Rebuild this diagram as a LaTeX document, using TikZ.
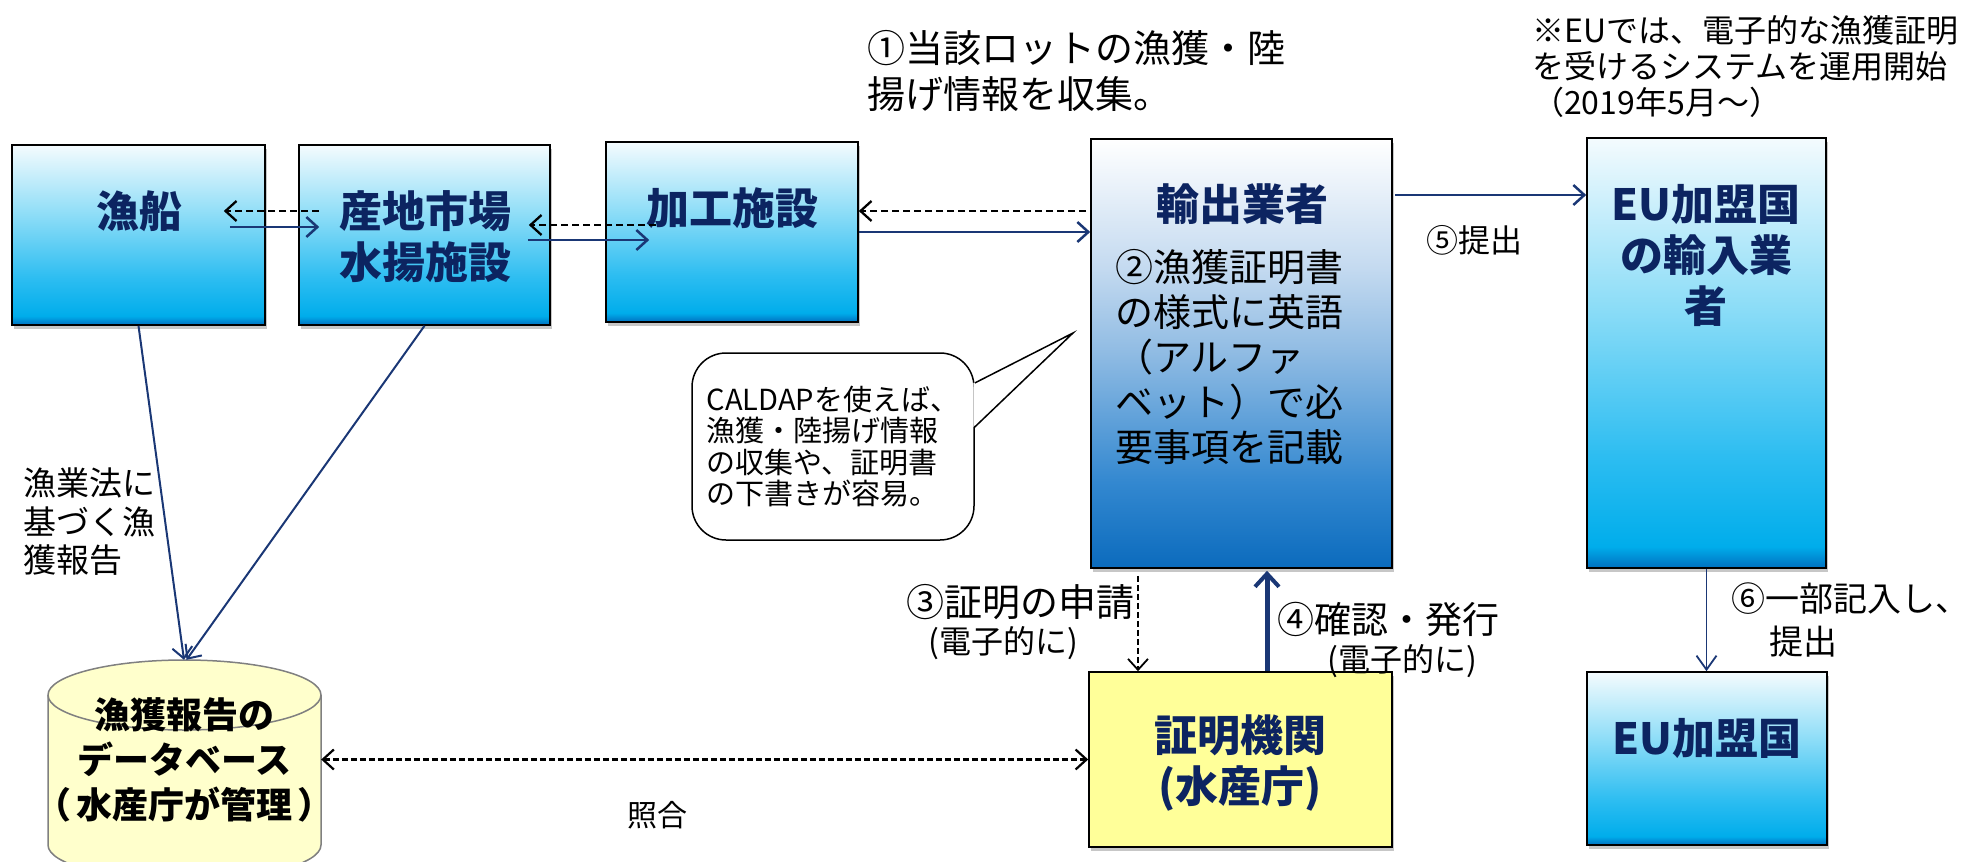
\documentclass[tikz,border=0pt]{standalone}
\usepackage{fontspec}
\setmainfont{Noto Sans CJK JP}
\usetikzlibrary{arrows.meta,shadows,calc}
\definecolor{navy}{HTML}{0C2461}
\definecolor{arrowblue}{HTML}{1A3775}
\definecolor{cb0}{HTML}{F4FBFE}
\definecolor{cb1}{HTML}{8ADCF7}
\definecolor{cb2}{HTML}{2DBDF1}
\definecolor{cb3}{HTML}{00ADEB}
\definecolor{cb4}{HTML}{0070C0}
\definecolor{db0}{HTML}{FFFFFF}
\definecolor{db1}{HTML}{C4DAF0}
\definecolor{db2}{HTML}{8FBBE3}
\definecolor{db3}{HTML}{3388D0}
\definecolor{db4}{HTML}{0B6BBD}
\definecolor{certfill}{HTML}{FFFF99}
\definecolor{dbfill}{HTML}{FFFFCC}
\definecolor{dbline}{HTML}{808080}
\pgfdeclareverticalshading{cyanbox}{100bp}{color(0bp)=(cb4); color(25bp)=(cb4); color(27.5bp)=(cb3); color(38bp)=(cb2); color(55bp)=(cb1); color(75bp)=(cb0); color(100bp)=(cb0)}
\pgfdeclareverticalshading{bluebox}{100bp}{color(0bp)=(db4); color(25bp)=(db4); color(35bp)=(db3); color(50bp)=(db2); color(60bp)=(db1); color(75bp)=(db0); color(100bp)=(db0)}
\newcommand\fsz[2]{\fontsize{#1pt}{#2pt}\selectfont}
\begin{document}
\begin{tikzpicture}[x=1pt,y=-1pt,
  shadowed/.style={drop shadow={shadow xshift=2pt,shadow yshift=-4pt,fill=black,opacity=0.22}},
  cbox/.style={draw=black,line width=1.6pt,shade,shading=cyanbox,shadowed,inner sep=0pt},
  bbox/.style={draw=black,line width=1.6pt,shade,shading=bluebox,shadowed,inner sep=0pt},
  ybox/.style={draw=black,line width=1.6pt,fill=certfill,shadowed,inner sep=0pt},
  title/.style={font=\fsz{43}{51}\bfseries,text=navy,align=center,inner sep=0pt},
  body/.style={font=\fsz{38}{45},text=black,align=left,inner sep=0pt},
  lbl/.style={text=black,align=left,inner sep=0pt},
  solidarrow/.style={draw=arrowblue,line width=2.5pt,-{Straight Barb[length=11pt,width=20pt]}},
  dasharrow/.style={draw=black,line width=2.3pt,dash pattern=on 7pt off 4pt,-{Straight Barb[length=11pt,width=20pt]}},
]
\useasboundingbox (0,0) rectangle (1971,862);
\clip (0,0) rectangle (1971,862);

% boxes
\node[cbox,minimum width=253pt,minimum height=180pt] (A) at (138.5,235) {};
\node[cbox,minimum width=251pt,minimum height=180pt] (B) at (424.5,235) {};
\node[cbox,minimum width=252pt,minimum height=180pt] (C) at (732,232) {};
\node[bbox,minimum width=301pt,minimum height=429pt] (D) at (1241.5,353.5) {};
\node[cbox,minimum width=239pt,minimum height=430pt] (E) at (1706.5,353) {};
\node[ybox,minimum width=303pt,minimum height=175pt] (F) at (1240.5,759.5) {};
\node[cbox,minimum width=240pt,minimum height=173pt] (G) at (1707,758.5) {};

% database cylinder
\fill[dbfill] (48,695) -- (48,845) arc[start angle=180,end angle=360,x radius=136.5pt,y radius=35pt] -- (321,695) arc[start angle=0,end angle=180,x radius=136.5pt,y radius=35pt] -- cycle;
\draw[dbline,line width=1.5pt] (48,695) -- (48,845) arc[start angle=180,end angle=360,x radius=136.5pt,y radius=35pt] -- (321,695) arc[start angle=0,end angle=180,x radius=136.5pt,y radius=35pt];
\draw[dbline,line width=1.5pt] (48,695) arc[start angle=180,end angle=360,x radius=136.5pt,y radius=35pt];
\node[minimum width=273pt,minimum height=200pt,inner sep=0pt] (H) at (184.5,760) {};

% box texts
\node[title] (tA) at (139,211) {漁船};
\node[title] (tB) at (425,237) {産地市場\\水揚施設};
\node[title] (tC) at (732,208) {加工施設};
\node[title] (tD) at (1242,204) {輸出業者};
\node[body] (tD2) at (1229,357) {②漁獲証明書\\の様式に英語\\（アルファ\\ベット）で必\\要事項を記載};
\node[title] (tE) at (1706,256) {EU加盟国\\の輸入業\\者};
\node[title] (tF) at (1240,763) {証明機関\\(水産庁)};
\node[title] (tG) at (1707,738) {EU加盟国};
\node[font=\fsz{36}{45}\bfseries,text=black,align=center,inner sep=0pt] (tH) at (184.5,760) {漁獲報告の\\データベース\\（\hspace{5pt}水産庁が管理\hspace{5pt}）};

% callout
\node[draw=black,line width=1.5pt,fill=white,rounded corners=34pt,minimum width=282pt,minimum height=187pt,font=\fsz{29}{31.5},align=left] (K) at (833,446.5) {CALDAPを使えば、\\漁獲・陸揚げ情報\\の収集や、証明書\\の下書きが容易。};
\coordinate (Ktip) at (1073,333);
\fill[white] ($(K.east)+(-1.5,-63.5)$) -- (Ktip) -- ($(K.east)+(-1.5,-19.5)$) -- cycle;
\draw[line width=1.5pt,line join=miter] ($(K.east)+(0,-63.5)$) -- (Ktip) -- ($(K.east)+(0,-19.5)$);

% labels
\node[lbl,font=\fsz{38}{46},anchor=west] (L1) at (867,71) {①当該ロットの漁獲・陸\\揚げ情報を収集。};
\node[lbl,font=\fsz{32}{36},anchor=west] (LEU) at (1532,67) {※EUでは、電子的な漁獲証明\\を受けるシステムを運用開始\\（2019年5月～）};
\node[lbl,font=\fsz{32}{36}] (L5) at (1474,240) {⑤提出};
\node[lbl,font=\fsz{38}{41}] (L3a) at (1020,602) {③証明の申請};
\node[lbl,font=\fsz{32}{36}] (L3b) at (1003,643) {(電子的に)};
\node[lbl,font=\fsz{37}{41}] (L4a) at (1388,619) {④確認・発行};
\node[lbl,font=\fsz{32}{36}] (L4b) at (1402,661) {(電子的に)};
\node[lbl,font=\fsz{34}{43},anchor=west] (L6) at (1731,620) {⑥一部記入し、\\\hspace*{38pt}提出};
\node[lbl,font=\fsz{33}{38.5},anchor=west] (LLaw) at (23,522) {漁業法に\\基づく漁\\獲報告};
\node[lbl,font=\fsz{30}{34}] (LS) at (657,815) {照合};

% connectors
\draw[dasharrow] ($(B.west)+(21,-24)$) -- ($(A.east)+(-42,-24)$);
\draw[solidarrow] ($(A.east)+(-36,-8)$) -- ($(B.west)+(21,-8)$);
\draw[dasharrow] ($(C.west)+(51,-7)$) -- ($(B.east)+(-22,-10)$);
\draw[solidarrow] ($(B.east)+(-23,5)$) -- ($(C.west)+(44,8)$);
\draw[dasharrow] ($(D.west)+(-4,-142.5)$) -- ($(C.east)+(0,-21)$);
\draw[solidarrow] (C.east) -- ($(D.west)+(0,-121.5)$);
\draw[solidarrow] ($(D.east)+(2,-158.5)$) -- ($(E.west)+(0,-158)$);
\draw[dasharrow,line width=1.8pt,dash pattern=on 6pt off 3pt] ($(D.south)+(-103.5,7)$) -- ($(F.north)+(-102.5,0)$);
\draw[draw=arrowblue,line width=5pt,-{Straight Barb[length=13pt,width=24pt,line width=4pt]}] ($(F.north)+(26.5,0)$) -- ($(D.south)+(25.5,2)$);
\draw[draw=arrowblue,line width=1.8pt,-{Straight Barb[length=14pt,width=20pt]}] (E.south) -- (E.south |- G.north);
\draw[solidarrow,line width=2pt] (A.south) -- ($(H.north)+(-0.5,0)$);
\draw[solidarrow,line width=2pt] (B.south) -- ($(H.north)+(2,0)$);
\draw[dasharrow,line width=2.2pt,dash pattern=on 6pt off 3pt,{Straight Barb[length=11pt,width=20pt]}-{Straight Barb[length=11pt,width=20pt]}] (H.east |- F.west) -- (F.west);
\end{tikzpicture}
\end{document}
